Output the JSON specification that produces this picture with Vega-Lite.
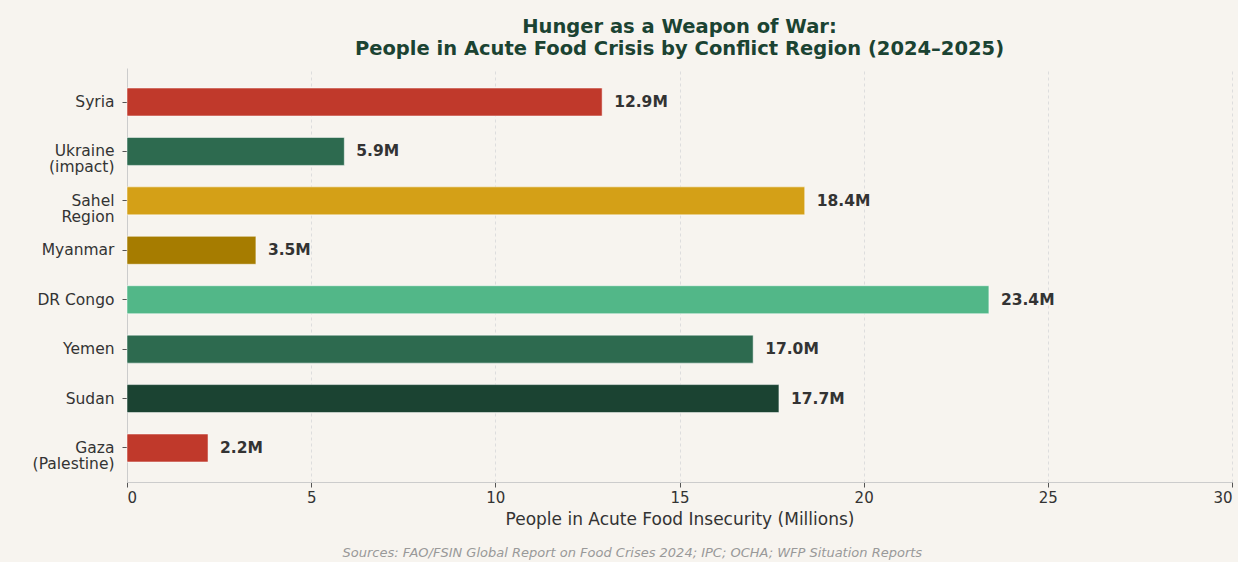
{
  "$schema": "https://vega.github.io/schema/vega-lite/v6.json",
  "background": "#f7f4ef",
  "padding": {"left": 32, "top": 16, "right": 5, "bottom": 5},
  "datasets": {
    "crisis": [
      {"region": "Syria", "value": 12.9},
      {"region": "Ukraine|(impact)", "value": 5.9},
      {"region": "Sahel|Region", "value": 18.4},
      {"region": "Myanmar", "value": 3.5},
      {"region": "DR Congo", "value": 23.4},
      {"region": "Yemen", "value": 17.0},
      {"region": "Sudan", "value": 17.7},
      {"region": "Gaza|(Palestine)", "value": 2.2}
    ]
  },
  "title": {
    "text": "Sources: FAO/FSIN Global Report on Food Crises 2024; IPC; OCHA; WFP Situation Reports",
    "orient": "bottom",
    "anchor": "middle",
    "font": "DejaVu Sans",
    "fontSize": 13,
    "fontStyle": "italic",
    "fontWeight": "normal",
    "color": "#999999",
    "offset": 20
  },
  "vconcat": [
    {
      "width": 1105,
      "height": 414,
      "title": {
        "text": ["Hunger as a Weapon of War:", "People in Acute Food Crisis by Conflict Region (2024–2025)"],
        "anchor": "middle",
        "font": "DejaVu Sans",
        "fontSize": 19.5,
        "fontWeight": "bold",
        "color": "#1b4332",
        "lineHeight": 22,
        "offset": 9
      },
      "data": {"name": "crisis"},
      "transform": [
        {"calculate": "format(datum.value, '.1f') + 'M'", "as": "label"}
      ],
      "encoding": {
        "y": {
          "field": "region",
          "type": "nominal",
          "sort": null,
          "scale": {"paddingInner": 0.434, "paddingOuter": 0.405},
          "axis": {
            "title": null,
            "labelExpr": "split(datum.label, '|')",
            "labelFontSize": 15.5,
            "labelLineHeight": 16,
            "labelPadding": 8,
            "tickSize": 5,
            "grid": false,
            "domain": true
          }
        },
        "x": {
          "field": "value",
          "type": "quantitative",
          "scale": {"domain": [0, 30], "nice": false},
          "axis": {
            "title": "People in Acute Food Insecurity (Millions)",
            "values": [0, 5, 10, 15, 20, 25, 30],
            "labelFontSize": 15,
            "titleFontSize": 17,
            "titleFontWeight": "normal",
            "titlePadding": 6,
            "labelPadding": 3,
            "tickSize": 5,
            "grid": true,
            "gridDash": [3, 3],
            "gridColor": "#dddddd",
            "gridWidth": 1
          }
        }
      },
      "layer": [
        {
          "mark": {"type": "bar", "stroke": "white", "strokeWidth": 1, "strokeOpacity": 0.5},
          "encoding": {
            "color": {
              "field": "region",
              "type": "nominal",
              "legend": null,
              "scale": {
                "domain": ["Syria", "Ukraine|(impact)", "Sahel|Region", "Myanmar", "DR Congo", "Yemen", "Sudan", "Gaza|(Palestine)"],
                "range": ["#c0392b", "#2d6a4f", "#d4a017", "#a67c00", "#52b788", "#2d6a4f", "#1b4332", "#c0392b"]
              }
            }
          }
        },
        {
          "mark": {"type": "text", "align": "left", "baseline": "middle", "dx": 12, "font": "DejaVu Sans", "fontSize": 15.5, "fontWeight": "bold", "color": "#333333"},
          "encoding": {"text": {"field": "label"}}
        }
      ]
    }
  ],
  "config": {
    "view": {"stroke": null},
    "font": "DejaVu Sans",
    "axis": {
      "labelFont": "DejaVu Sans",
      "titleFont": "DejaVu Sans",
      "labelColor": "#333333",
      "titleColor": "#333333",
      "domainColor": "#cccccc",
      "tickColor": "#555555",
      "domainWidth": 1
    }
  }
}
